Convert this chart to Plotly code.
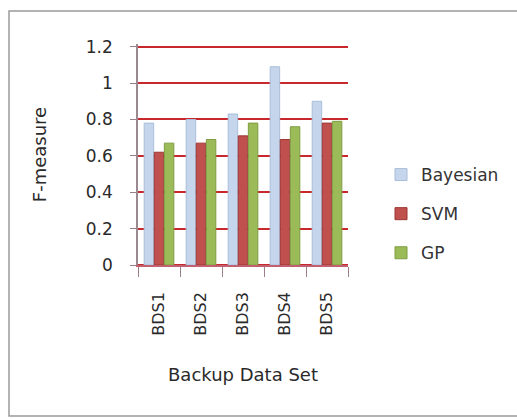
import plotly.graph_objects as go

# Data
categories = ["BDS1", "BDS2", "BDS3", "BDS4", "BDS5"]
bayesian = [0.78, 0.80, 0.83, 1.09, 0.90]
svm = [0.62, 0.67, 0.71, 0.69, 0.78]
gp = [0.67, 0.69, 0.78, 0.76, 0.79]

W, H = 517, 420
ML, MR, MT, MB = 138, 169, 44, 155
pw, ph = W - ML - MR, H - MT - MB

def px_x(x):
    return (x - ML) / pw

def px_y(y):
    return (H - MB - y) / ph

fig = go.Figure()
fig.add_trace(go.Bar(name="Bayesian", x=categories, y=bayesian, legendgroup="a",
                     marker=dict(color="#c5d6ec", line=dict(color="#a9bedb", width=1))))
fig.add_trace(go.Bar(name="SVM", x=categories, y=svm, legendgroup="b",
                     marker=dict(color="#c0504d", line=dict(color="#9c3533", width=1))))
fig.add_trace(go.Bar(name="GP", x=categories, y=gp, legendgroup="c",
                     marker=dict(color="#9bbb59", line=dict(color="#7f9d40", width=1))))

font = "DejaVu Sans, sans-serif"
txt = "#2a2a2a"

fig.update_layout(
    width=W, height=H,
    margin=dict(l=ML, r=MR, t=MT, b=MB),
    paper_bgcolor="white", plot_bgcolor="white",
    barmode="group", bargap=0.28, bargroupgap=0.06,
    font=dict(family=font, color=txt),
    showlegend=True,
    legend=dict(x=px_x(381), y=px_y(157), xanchor="left", yanchor="top",
                traceorder="grouped", tracegroupgap=14,
                font=dict(size=17, color="#333333"),
                itemwidth=30, bgcolor="rgba(0,0,0,0)"),
    xaxis=dict(
        type="category", tickangle=-90, tickson="boundaries",
        ticks="outside", ticklen=10, tickcolor="#9a7f86",
        ticklabelstandoff=19,
        showline=True, linecolor="#c06070", linewidth=1.5,
        tickfont=dict(size=16, color=txt),
        title=dict(text="Backup Data Set", font=dict(size=18, color=txt), standoff=34),
    ),
    yaxis=dict(
        range=[0, 1.215], tickvals=[0, 0.2, 0.4, 0.6, 0.8, 1.0, 1.2], tickformat="~g",
        showgrid=True, gridcolor="#c8282c", gridwidth=2,
        showline=True, linecolor="#9a8a90", linewidth=1.5,
        ticks="outside", ticklen=6, tickcolor="#9a7f86",
        ticklabelstandoff=14,
        tickfont=dict(size=17, color=txt),
        zeroline=True, zerolinecolor="#c8282c", zerolinewidth=2,
        title=dict(text="F-measure", font=dict(size=18, color=txt), standoff=35),
    ),
)

# Outer chart frame
fig.add_shape(type="rect", xref="paper", yref="paper",
              x0=px_x(9), x1=px_x(530), y0=px_y(416), y1=px_y(11),
              line=dict(color="#9a9a9a", width=1.5), fillcolor="rgba(0,0,0,0)", layer="below")

fig.write_html("out.html")
